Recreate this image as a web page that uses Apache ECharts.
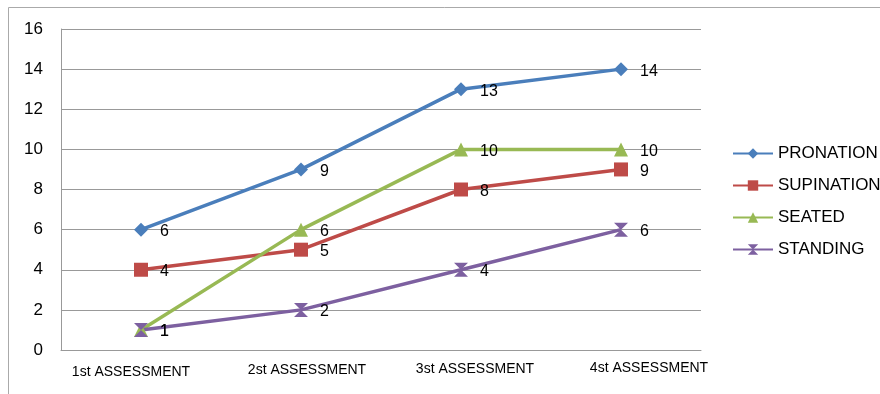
<!DOCTYPE html>
<html><head><meta charset="utf-8">
<script src="https://cdn.jsdelivr.net/npm/echarts@6/dist/echarts.min.js"></script>
<style>html,body{margin:0;padding:0;background:#fff}#c{width:880px;height:394px}</style>
</head><body><div id="c"></div>
<script>
var categories = ['1st ASSESSMENT', '2st ASSESSMENT', '3st ASSESSMENT', '4st ASSESSMENT'];
var pronation = [6, 9, 13, 14];
var supination = [4, 5, 8, 9];
var seated = [1, 6, 10, 10];
var standing = [1, 2, 4, 6];
var yTicks = [0, 2, 4, 6, 8, 10, 12, 14, 16];

var hourglass = 'path://M0,0 L10,0 L5,5 L10,10 L0,10 L5,5 Z';
var font = 'Liberation Sans, Arial, sans-serif';
// per-label nudges to mimic the original's slightly irregular label placement
var labelPads = [[4, 20, 0, 0], [2, 0, 0, 12], [1, 0, 0, 28], [0, 0, 0, 56]];
var rich = {};
labelPads.forEach(function (p, i) {
  rich['l' + i] = { padding: p, fontSize: 14, fontFamily: font, color: '#000' };
});
function mk(name, data, color, symbol, size) {
  return {
    name: name, type: 'line', data: data, symbol: symbol, symbolSize: size,
    lineStyle: { color: color, width: 3.5 },
    itemStyle: { color: color },
    label: { show: true, position: 'right', distance: 12, offset: [0, 2],
      color: '#000', fontSize: 16, fontFamily: font },
    z: 3
  };
}
var chart = echarts.init(document.getElementById('c'));
chart.setOption({
  animation: false,
  graphic: [{ type: 'rect', shape: { x: 8.5, y: 7.5, width: 900, height: 400 },
    style: { fill: 'none', stroke: '#aaa', lineWidth: 1 }, z: -10 }],
  grid: { left: 61, top: 29, right: 179, bottom: 44 },
  legend: {
    orient: 'vertical', left: 732, top: 145, itemGap: 15, padding: 0,
    itemWidth: 40, itemHeight: 13,
    textStyle: { fontSize: 17, fontFamily: font, color: '#000' },
    data: ['PRONATION', 'SUPINATION', 'SEATED', 'STANDING']
  },
  xAxis: {
    type: 'category', data: categories, boundaryGap: true,
    axisLine: { lineStyle: { color: '#999', width: 1 } },
    axisTick: { show: false },
    axisLabel: { color: '#000', fontSize: 14, fontFamily: font, margin: 11, interval: 0,
      formatter: function (v, i) { return '{l' + i + '|' + v + '}'; }, rich: rich }
  },
  yAxis: {
    type: 'value', min: yTicks[0], max: yTicks[yTicks.length - 1], interval: 2,
    axisLine: { show: true, lineStyle: { color: '#999', width: 1 } },
    axisTick: { show: false },
    splitLine: { lineStyle: { color: '#999', width: 1 } },
    axisLabel: { color: '#000', fontSize: 17, fontFamily: font, margin: 18 }
  },
  series: [
    mk('PRONATION', pronation, '#4a7ebb', 'diamond', 14),
    mk('SUPINATION', supination, '#be4b48', 'rect', 14),
    mk('SEATED', seated, '#98b954', 'triangle', 14),
    mk('STANDING', standing, '#7d60a0', hourglass, 14)
  ]
});
</script></body></html>
